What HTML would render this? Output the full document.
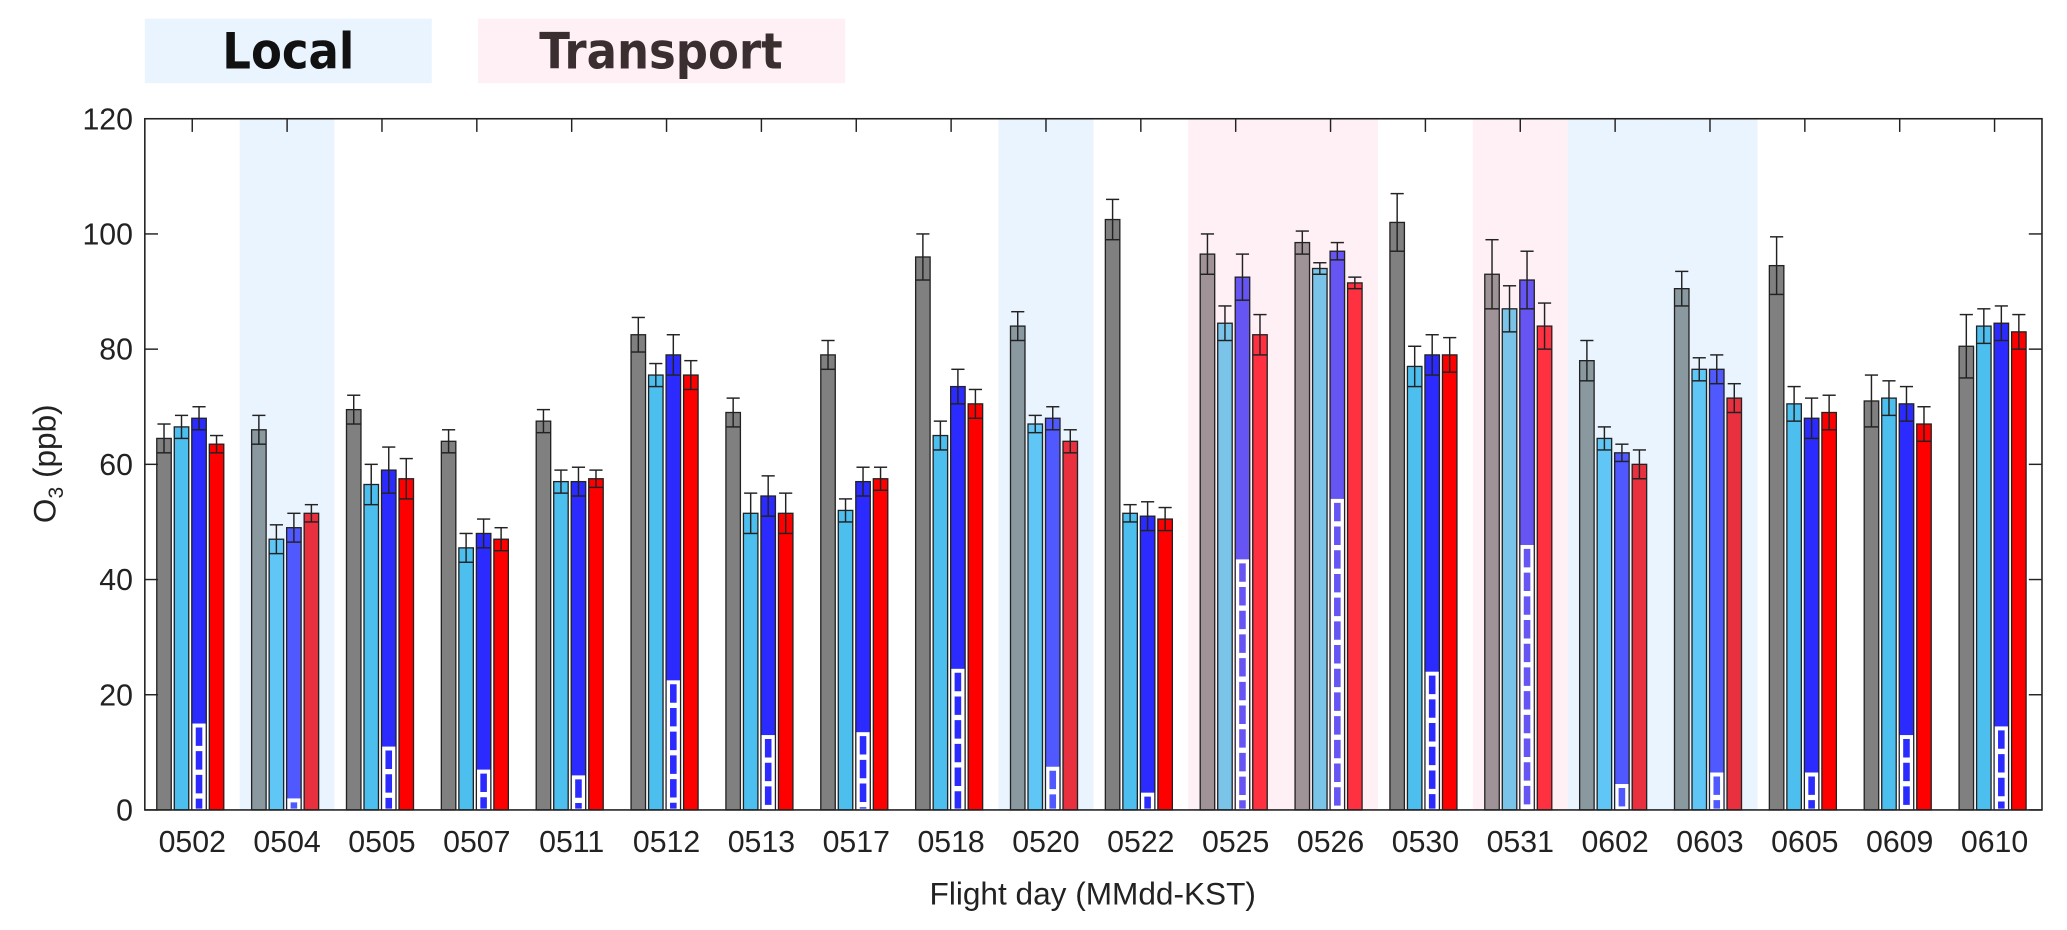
<!DOCTYPE html>
<html><head><meta charset="utf-8"><style>
html,body{margin:0;padding:0;background:#fff;}
svg{display:block;font-family:"Liberation Sans",Arial,sans-serif;}
</style></head><body>
<svg id="chart" width="2067" height="930" viewBox="0 0 1570 706" xmlns="http://www.w3.org/2000/svg">
<rect x="110" y="14" width="218" height="49" fill="#eaf4fe"/>
<text x="219" y="52" text-anchor="middle" font-size="38" font-weight="bold" fill="#111" font-family="'DejaVu Sans Condensed','Liberation Sans Narrow','Liberation Sans',sans-serif">Local</text>
<rect x="363" y="14" width="279" height="49" fill="#fef0f4"/>
<text x="502" y="52" text-anchor="middle" font-size="38" font-weight="bold" fill="#3a2e30" font-family="'DejaVu Sans Condensed','Liberation Sans Narrow','Liberation Sans',sans-serif">Transport</text>
<g id="bands"></g>
<g id="bars"></g>
<g id="axes"></g>
<text transform="translate(42,352) rotate(-90)" text-anchor="middle" font-size="24" fill="#222">O<tspan font-size="16" dy="6">3</tspan><tspan dy="-6"> (ppb)</tspan></text>
<text x="830" y="687" text-anchor="middle" font-size="24" fill="#222">Flight day (MMdd-KST)</text>
</svg>
<script>
const categories=["0502","0504","0505","0507","0511","0512","0513","0517","0518","0520","0522","0525","0526","0530","0531","0602","0603","0605","0609","0610"];
const regime=["n","L","n","n","n","n","n","n","n","L","n","T","T","n","T","L","L","n","n","n"];
const grayVals=[64.5,66,69.5,64,67.5,82.5,69,79,96,84,102.5,96.5,98.5,102,93,78,90.5,94.5,71,80.5];
const grayErr=[2.5,2.5,2.5,2,2,3,2.5,2.5,4,2.5,3.5,3.5,2,5,6,3.5,3,5,4.5,5.5];
const cyanVals=[66.5,47,56.5,45.5,57,75.5,51.5,52,65,67,51.5,84.5,94,77,87,64.5,76.5,70.5,71.5,84];
const cyanErr=[2,2.5,3.5,2.5,2,2,3.5,2,2.5,1.5,1.5,3,1,3.5,4,2,2,3,3,3];
const blueVals=[68,49,59,48,57,79,54.5,57,73.5,68,51,92.5,97,79,92,62,76.5,68,70.5,84.5];
const blueErr=[2,2.5,4,2.5,2.5,3.5,3.5,2.5,3,2,2.5,4,1.5,3.5,5,1.5,2.5,3.5,3,3];
const blueHatch=[15,2,11,7,6,22.5,13,13.5,24.5,7.5,3,43.5,54,24,46,4.5,6.5,6.5,13,14.5];
const redVals=[63.5,51.5,57.5,47,57.5,75.5,51.5,57.5,70.5,64,50.5,82.5,91.5,79,84,60,71.5,69,67,83];
const redErr=[1.5,1.5,3.5,2,1.5,2.5,3.5,2,2.5,2,2,3.5,1,3,4,2.5,2.5,3,3,3];
const yTicks=[0,20,40,60,80,100,120];

const NS="http://www.w3.org/2000/svg";
const X0=110,X1=1551,Y0=615,Y1=90,YMAX=120;
const gw=(X1-X0)/categories.length;
function xc(i){return X0+gw*(i+0.5);}
function y(v){return Y0-(v/YMAX)*(Y0-Y1);}
function mk(tag,attrs,parent){const e=document.createElementNS(NS,tag);for(const k in attrs)e.setAttribute(k,attrs[k]);parent.appendChild(e);return e;}
const bands=document.getElementById('bands'),bars=document.getElementById('bars'),axes=document.getElementById('axes');
const palettes={n:["#808080","#4dbfef","#2b2bff","#ff0000"],L:["#8a98a0","#60c6f5","#5058ff","#e8303f"],T:["#a09398","#7ac4ea","#6655f2","#ff3040"]};
categories.forEach((c,i)=>{
  if(regime[i]!=="n"){
    const b=mk('rect',{x:xc(i)-gw/2,y:Y1,width:gw,height:Y0-Y1,fill:regime[i]==="L"?"#eaf4fe":"#fef0f4"},bands);
    
    
  }
});
const series=[[grayVals,grayErr,"gray"],[cyanVals,cyanErr,"cyan"],[blueVals,blueErr,"blue"],[redVals,redErr,"red"]];
const bw=11,pitch=13.3;
categories.forEach((c,i)=>{
  const pal=palettes[regime[i]];
  series.forEach((s,k)=>{
    const v=s[0][i],e=s[1][i];
    const cx=xc(i)-1.5+(k-1.5)*pitch;
    const r=mk('rect',{x:cx-bw/2,y:y(v),width:bw,height:Y0-y(v),fill:pal[k],stroke:"#222","stroke-width":1},bars);
    
    
    if(k===2){
      const h=blueHatch[i];
      const w=mk('rect',{x:cx-bw/2+0.5,y:y(h),width:bw-1,height:Y0-y(h),fill:"#fff"},bars);
      
      
      const d=mk('line',{x1:cx,x2:cx,y1:y(h)+3,y2:Y0-1,stroke:pal[2],"stroke-width":5,"stroke-dasharray":"14 4"},bars);
      
      
    }
    const g=mk('g',{stroke:"#222","stroke-width":1.1},bars);
    
    
    mk('line',{x1:cx,x2:cx,y1:y(v+e),y2:y(v-e)},g);
    mk('line',{x1:cx-5,x2:cx+5,y1:y(v+e),y2:y(v+e)},g);
    mk('line',{x1:cx-bw/2,x2:cx+bw/2,y1:y(v-e),y2:y(v-e)},g);
  });
});
const frame=mk('rect',{x:X0,y:Y1,width:X1-X0,height:Y0-Y1,fill:"none",stroke:"#222","stroke-width":1.2},axes);


yTicks.forEach(t=>{
  mk('line',{x1:X0,x2:X0+10,y1:y(t),y2:y(t),stroke:"#222","stroke-width":1.1},axes);
  mk('line',{x1:X1-10,x2:X1,y1:y(t),y2:y(t),stroke:"#222","stroke-width":1.1},axes);
  const tx=mk('text',{x:X0-9,y:y(t)+8,"text-anchor":"end","font-size":23,fill:"#222"},axes);
  tx.textContent=t;
  
  
});
categories.forEach((c,i)=>{
  mk('line',{x1:xc(i),x2:xc(i),y1:Y1,y2:Y1+10,stroke:"#222","stroke-width":1.1},axes);
  const tx=mk('text',{x:xc(i),y:647,"text-anchor":"middle","font-size":23,fill:"#222"},axes);
  tx.textContent=c;
  
  
});
</script>
</body></html>
